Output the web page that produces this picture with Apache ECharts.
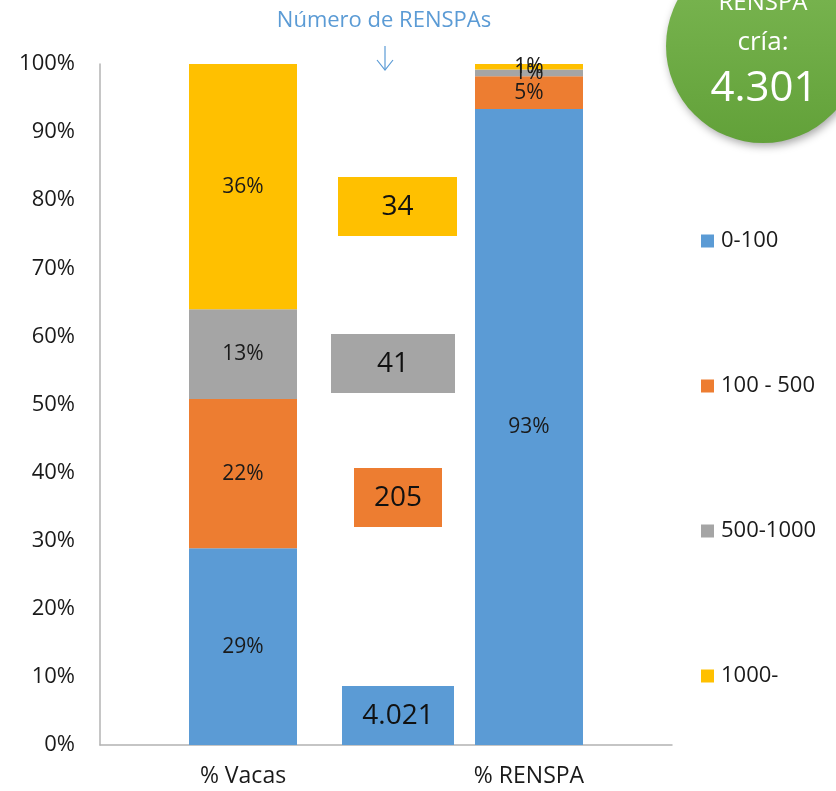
<!DOCTYPE html>
<html>
<head>
<meta charset="utf-8">
<script src="https://cdn.jsdelivr.net/npm/echarts@6/dist/echarts.min.js"></script>
<style>html,body{margin:0;padding:0;background:#fff}#c{width:836px;height:791px}</style>
</head>
<body>
<div id="c"></div>
<script>
var categories = ['% Vacas', '% RENSPA'];
var seriesNames = ['0-100', '100 - 500', '500-1000', '1000-'];
var vacas = [28.9, 21.9, 13.2, 36.0];
var renspa = [93.4, 4.8, 1.0, 0.8];
var renspaCounts = ['4.021', '205', '41', '34'];
var totalRenspa = '4.301';
var yTicks = [0, 10, 20, 30, 40, 50, 60, 70, 80, 90, 100];
var colors = ['#5B9BD5', '#ED7D31', '#A5A5A5', '#FFC000'];

var FONT = 'Open Sans';
var chart = echarts.init(document.getElementById('c'), null, {renderer: 'canvas'});

var series = seriesNames.map(function (name, i) {
  return {
    name: name,
    type: 'bar',
    stack: 'total',
    barWidth: 108,
    itemStyle: {color: colors[i]},
    label: {
      show: true,
      position: 'inside',
      color: '#1a1a1a',
      fontFamily: FONT,
      fontSize: 21,
      formatter: function (p) { return Math.round(p.value) + '%'; }
    },
    data: [vacas[i], renspa[i]]
  };
});

// annotation boxes (count of RENSPAs per group)
var boxes = [
  {x: 342, y: 686, w: 112, h: 59, c: colors[0], t: renspaCounts[0]},
  {x: 354, y: 468, w: 88, h: 59, c: colors[1], t: renspaCounts[1]},
  {x: 331, y: 334, w: 124, h: 59, c: colors[2], t: renspaCounts[2]},
  {x: 338, y: 177, w: 119, h: 59, c: colors[3], t: renspaCounts[3]}
];
var graphics = [];
boxes.forEach(function (b) {
  graphics.push({
    type: 'rect', z: 10,
    shape: {x: b.x, y: b.y, width: b.w, height: b.h},
    style: {fill: b.c}
  });
  graphics.push({
    type: 'text', z: 11,
    x: b.x + b.w / 2, y: b.y + b.h / 2 + 1,
    style: {text: b.t, fill: '#111', font: '28px "' + FONT + '"', align: 'center', verticalAlign: 'middle'}
  });
});
graphics.push({
  type: 'text', z: 11, x: 384, y: 21,
  style: {text: 'Número de RENSPAs', fill: '#5B9BD5', font: '22px "' + FONT + '"', align: 'center', verticalAlign: 'middle'}
});
graphics.push({
  type: 'polyline', z: 11,
  shape: {points: [[385, 46], [385, 70]]},
  style: {stroke: '#5B9BD5', lineWidth: 1.2, fill: null}
});
graphics.push({
  type: 'polyline', z: 11,
  shape: {points: [[377, 60], [385, 70], [393, 60]]},
  style: {stroke: '#5B9BD5', lineWidth: 1.2, fill: null}
});
graphics.push({
  type: 'circle', z: 12,
  shape: {cx: 763, cy: 46, r: 97},
  style: {
    fill: new echarts.graphic.LinearGradient(0, 0, 0, 1, [
      {offset: 0, color: '#7DB854'},
      {offset: 1, color: '#62A139'}
    ]),
    shadowBlur: 8, shadowColor: 'rgba(0,0,0,0.35)', shadowOffsetX: 2, shadowOffsetY: 3
  }
});
graphics.push({
  type: 'text', z: 13, x: 763, y: 3,
  style: {text: 'RENSPA', fill: '#fff', font: '24px "' + FONT + '"', align: 'center', verticalAlign: 'middle'}
});
graphics.push({
  type: 'text', z: 13, x: 763, y: 43,
  style: {text: 'cría:', fill: '#fff', font: '26px "' + FONT + '"', align: 'center', verticalAlign: 'middle'}
});
graphics.push({
  type: 'text', z: 13, x: 764, y: 89,
  style: {text: totalRenspa, fill: '#fff', font: '42px "' + FONT + '"', align: 'center', verticalAlign: 'middle'}
});

chart.setOption({
  animation: false,
  backgroundColor: '#fff',
  grid: {left: 100, right: 164, top: 64, bottom: 46},
  xAxis: {
    type: 'category',
    data: categories,
    axisLine: {lineStyle: {color: '#B3B3B3', width: 1.5}},
    axisTick: {show: false},
    axisLabel: {color: '#1a1a1a', fontFamily: FONT, fontSize: 23, margin: 20}
  },
  yAxis: {
    type: 'value',
    min: yTicks[0], max: yTicks[yTicks.length - 1], interval: 10,
    axisLine: {show: true, lineStyle: {color: '#B3B3B3', width: 1.5}},
    axisTick: {show: false},
    splitLine: {show: false},
    axisLabel: {color: '#1a1a1a', fontFamily: FONT, fontSize: 22, margin: 25, formatter: '{value}%'}
  },
  legend: {
    orient: 'vertical',
    left: 696,
    top: 225,
    itemWidth: 13,
    itemHeight: 13,
    itemGap: 123,
    icon: 'rect',
    data: seriesNames,
    textStyle: {color: '#1a1a1a', fontFamily: FONT, fontSize: 22, lineHeight: 22, padding: [0, 0, 0, 2]}
  },
  series: series,
  graphic: graphics
});
</script>
</body>
</html>
